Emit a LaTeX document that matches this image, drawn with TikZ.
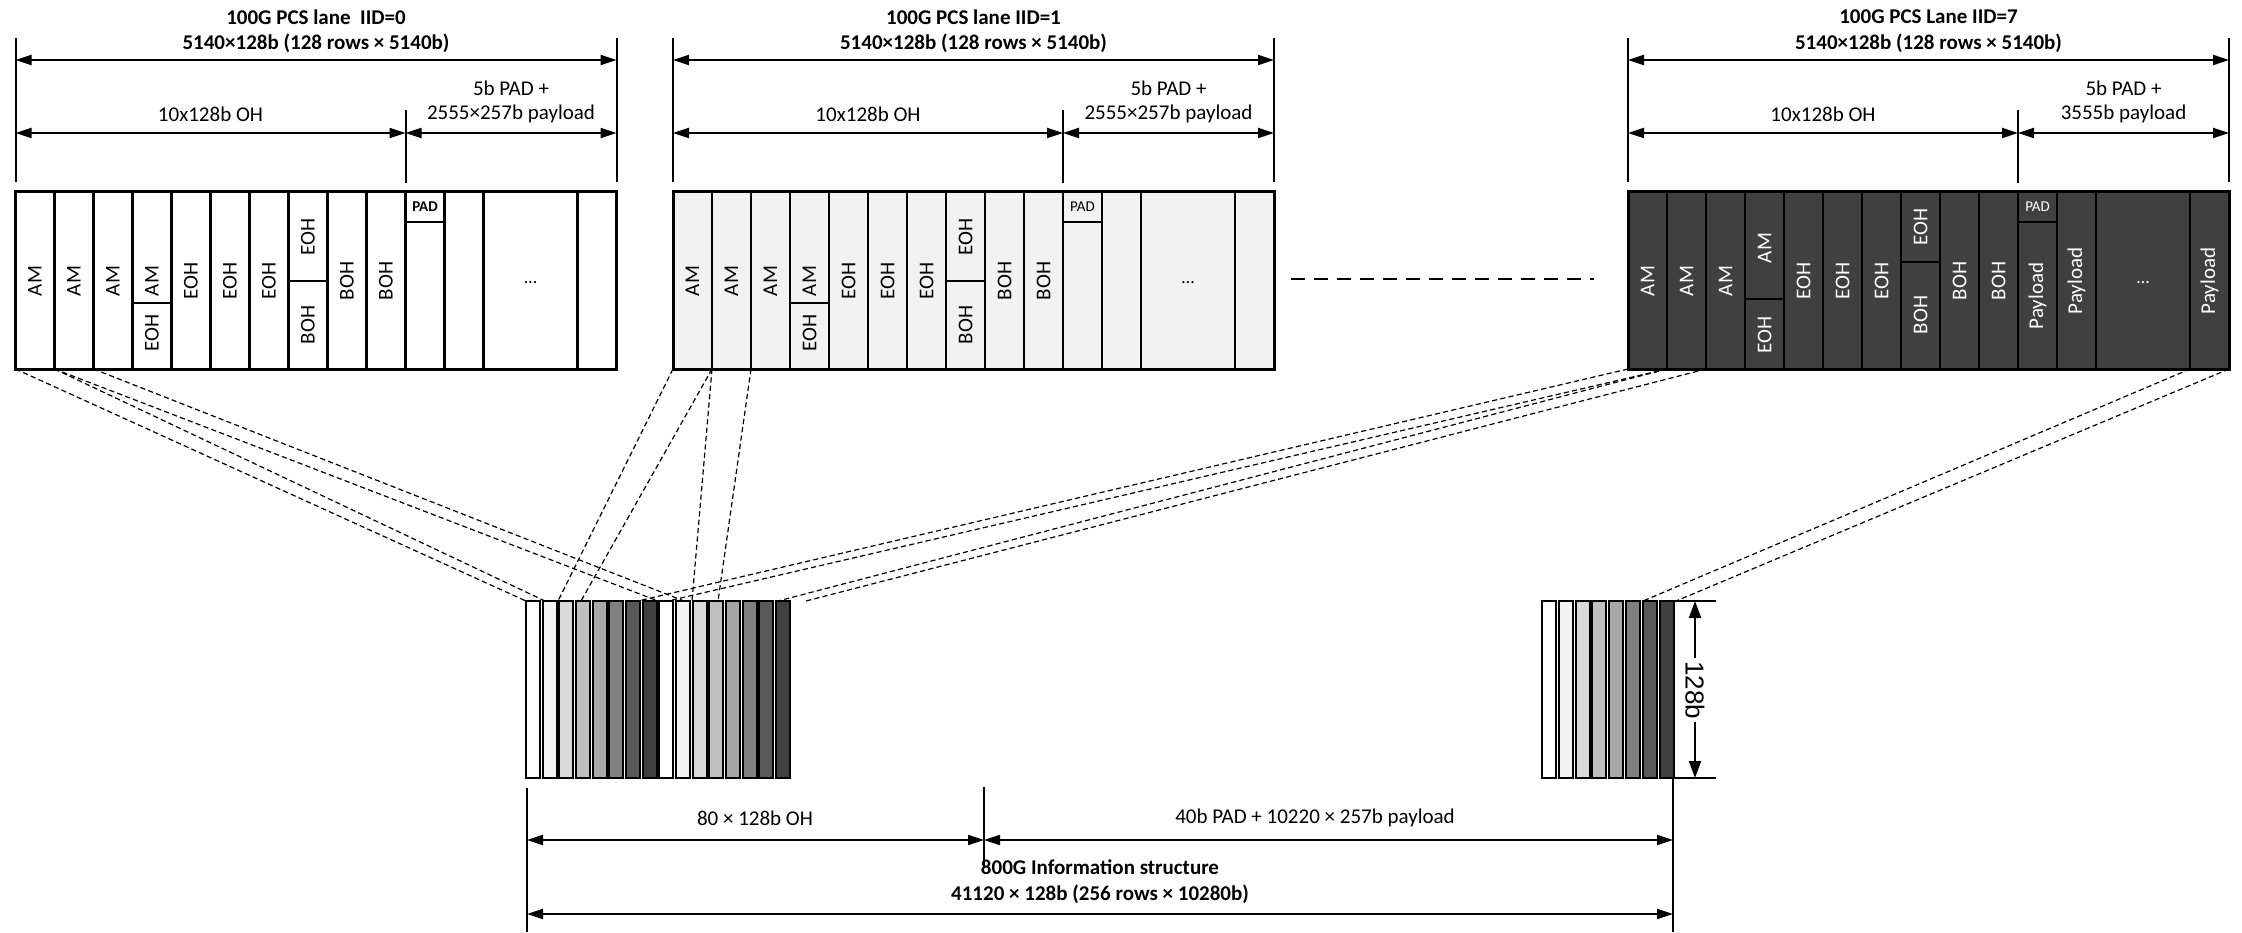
\documentclass[tikz,border=0pt]{standalone}
\usepackage{fontspec}
\setmainfont{Carlito}
\newfontfamily\arialf{Liberation Sans}
\usetikzlibrary{arrows.meta}
\definecolor{g1}{HTML}{F2F2F2}
\definecolor{g2}{HTML}{D9D9D9}
\definecolor{g3}{HTML}{BFBFBF}
\definecolor{g4}{HTML}{A6A6A6}
\definecolor{g5}{HTML}{808080}
\definecolor{g6}{HTML}{595959}
\definecolor{g7}{HTML}{404040}
\tikzset{
  boxline/.style={line width=1.5pt},
  divline/.style={line width=1.2pt},
  extline/.style={line width=1pt},
  dimarrow/.style={line width=1pt,{Triangle[length=8pt,width=5pt]}-{Triangle[length=8pt,width=5pt]}},
  conn/.style={line width=0.6pt,dash pattern=on 2.6pt off 1.6pt},
  barbox/.style={line width=1pt},
  lbl/.style={font=\fontsize{10.5}{12}\selectfont,rotate=90,inner sep=0pt},
  padlbl/.style={font=\fontsize{7.5}{9}\selectfont,inner sep=0pt},
  dotlbl/.style={font=\fontsize{9}{10}\selectfont,inner sep=0pt},
  txt/.style={font=\fontsize{10.5}{12}\selectfont,inner sep=0pt},
  ttl/.style={font=\bfseries\fontsize{10.5}{12}\selectfont,inner sep=0pt},
}
\newcommand\lanebox[3]{%
\begin{scope}[shift={(#1,0)}]
  \fill[#2] (0,191) rectangle (601,369);
  \foreach \k in {39,78,...,468} \draw[divline] (\k,191) -- (\k,369);
  \draw[divline] (562,191) -- (562,369);
  \draw[boxline] (0,191) rectangle (601,369);
  \coordinate (#3-c0) at (0,369);
  \coordinate (#3-c1) at (39,369);
  \coordinate (#3-c2) at (78,369);
  \coordinate (#3-cR) at (562,369);
  \coordinate (#3-cE) at (601,369);
\end{scope}}
\newcommand\lanedims[4]{%
\begin{scope}[shift={(#1,0)}]
  \node[ttl] (#4-t1) at (300.5,17) {100G PCS #2};
  \node[ttl] (#4-t2) at (300.5,43) {5140×128b (128 rows × 5140b)};
  \coordinate (#4-e1) at (0,38);   \coordinate (#4-e2) at (0,182);
  \coordinate (#4-e3) at (601,38); \coordinate (#4-e4) at (601,182);
  \coordinate (#4-e5) at (390,110); \coordinate (#4-e6) at (390,183);
  \draw[extline] (#4-e1) -- (#4-e2);
  \draw[extline] (#4-e3) -- (#4-e4);
  \draw[extline] (#4-e5) -- (#4-e6);
  \coordinate (#4-a1) at (0,60);  \coordinate (#4-a2) at (601,60);
  \coordinate (#4-b1) at (0,133); \coordinate (#4-b2) at (390,133); \coordinate (#4-b3) at (601,133);
  \draw[dimarrow] (#4-a1) -- (#4-a2);
  \draw[dimarrow] (#4-b1) -- (#4-b2);
  \draw[dimarrow] (#4-b2) -- (#4-b3);
  \node[txt] (#4-oh) at (195,114) {10x128b OH};
  \node[txt] (#4-p1) at (495.5,88) {5b PAD +};
  \node[txt] (#4-p2) at (495.5,114) {#3};
\end{scope}}
\newcommand\lanelabelsA[3]{% frames IID=0 and IID=1
\begin{scope}[shift={(#1,0)}]
  \draw[divline] (117,303) -- (156,303);
  \draw[divline] (273,281) -- (312,281);
  \draw[divline] (390,222) -- (429,222);
  \node[lbl] (#2-l1) at (19.5,281) {AM};
  \node[lbl] (#2-l2) at (58.5,281) {AM};
  \node[lbl] (#2-l3) at (97.5,281) {AM};
  \node[lbl] (#2-l4) at (136.5,281) {AM};
  \node[lbl] (#2-l4b) at (136.5,333) {EOH};
  \node[lbl] (#2-l5) at (175.5,281) {EOH};
  \node[lbl] (#2-l6) at (214.5,281) {EOH};
  \node[lbl] (#2-l7) at (253.5,281) {EOH};
  \node[lbl] (#2-l8) at (292.5,237) {EOH};
  \node[lbl] (#2-l8b) at (292.5,325) {BOH};
  \node[lbl] (#2-l9) at (331.5,281) {BOH};
  \node[lbl] (#2-l10) at (370.5,281) {BOH};
  \node[padlbl] (#2-pad) at (409.5,206.5) {#3PAD};
  \node[dotlbl] (#2-dots) at (515,283) {…};
\end{scope}}
\begin{document}
\begin{tikzpicture}[x=0.5pt,y=-0.5pt]
\useasboundingbox (0,0) rectangle (2242,932);

% ---- lane IID=0
\lanebox{15.5}{white}{L0}
\lanelabelsA{15.5}{L0}{\bfseries}
\lanedims{15.5}{lane~~IID=0}{2555×257b payload}{D0}

% ---- lane IID=1
\lanebox{673}{g1}{L1}
\lanelabelsA{673}{L1}{}
\lanedims{673}{lane IID=1}{2555×257b payload}{D1}

% ---- lane IID=7
\lanebox{1628}{g7}{L7}
\begin{scope}[shift={(1628,0)},lbl/.append style={text=white},padlbl/.append style={text=white},dotlbl/.append style={text=white}]
  \draw[divline] (117,299) -- (156,299);
  \draw[divline] (273,262) -- (312,262);
  \draw[divline] (390,222) -- (429,222);
  \node[lbl] (L7-l1) at (19.5,281) {AM};
  \node[lbl] (L7-l2) at (58.5,281) {AM};
  \node[lbl] (L7-l3) at (97.5,281) {AM};
  \node[lbl] (L7-l4) at (136.5,248) {AM};
  \node[lbl] (L7-l4b) at (136.5,335) {EOH};
  \node[lbl] (L7-l5) at (175.5,281) {EOH};
  \node[lbl] (L7-l6) at (214.5,281) {EOH};
  \node[lbl] (L7-l7) at (253.5,281) {EOH};
  \node[lbl] (L7-l8) at (292.5,227) {EOH};
  \node[lbl] (L7-l8b) at (292.5,315) {BOH};
  \node[lbl] (L7-l9) at (331.5,281) {BOH};
  \node[lbl] (L7-l10) at (370.5,281) {BOH};
  \node[padlbl] (L7-pad) at (409.5,206.5) {PAD};
  \node[lbl] (L7-pl1) at (409.5,296) {Payload};
  \node[lbl] (L7-pl2) at (448.5,281) {Payload};
  \node[dotlbl] (L7-dots) at (515,283) {…};
  \node[lbl] (L7-pl3) at (581.5,281) {Payload};
\end{scope}
\lanedims{1628}{Lane IID=7}{3555b payload}{D7}

% ---- dashed separator between lanes
\coordinate (sepA) at (1291,279);
\coordinate (sepB) at (1594,279);
\draw[line width=1pt,dash pattern=on 7pt off 4.5pt] (sepA) -- (sepB);

% ---- 800G structure bars
\foreach \i/\c in {0/white,1/g1,2/g2,3/g3,4/g4,5/g5,6/g6,7/g7,8/white,9/g1,10/g2,11/g3,12/g4,13/g5,14/g6,15/g7}
  \draw[barbox,fill=\c] ({526+16.67*\i},601) rectangle ++(14,177);
\foreach \i/\c in {0/white,1/g1,2/g2,3/g3,4/g4,5/g5,6/g6,7/g7}
  \draw[barbox,fill=\c] ({1542+16.8*\i},601) rectangle ++(14,177);

% ---- connector end points at the bars
\coordinate (L0a) at (526,601);
\coordinate (L0b) at (545,601);
\coordinate (L0c) at (658,601);
\coordinate (L0d) at (684,601);
\coordinate (L1a) at (558,601);
\coordinate (L1b) at (581,601);
\coordinate (L1c) at (692,601);
\coordinate (L1d) at (718,601);
\coordinate (L7a) at (638,601);
\coordinate (L7b) at (668,601);
\coordinate (L7c) at (778,601);
\coordinate (L7d) at (806,601);
\coordinate (L7e) at (1643,601);
\coordinate (L7f) at (1676,601);

\draw[conn] (L0-c0) -- (L0a);
\draw[conn] (L0-c1) -- (L0b);
\draw[conn] (L0-c1) -- (L0c);
\draw[conn] (L0-c2) -- (L0d);
\draw[conn] (L1-c0) -- (L1a);
\draw[conn] (L1-c1) -- (L1b);
\draw[conn] (L1-c1) -- (L1c);
\draw[conn] (L1-c2) -- (L1d);
\draw[conn] (L7-c0) -- (L7a);
\draw[conn] (L7-c1) -- (L7b);
\draw[conn] (L7-c1) -- (L7c);
\draw[conn] (L7-c2) -- (L7d);
\draw[conn] (L7-cR) -- (L7e);
\draw[conn] (L7-cE) -- (L7f);

% ---- 128b dimension
\coordinate (h1) at (1673.6,601); \coordinate (h2) at (1716,601);
\coordinate (h3) at (1673.6,778); \coordinate (h4) at (1716,778);
\coordinate (h5) at (1695,601);   \coordinate (h6) at (1695,778);
\draw[extline] (h1) -- (h2);
\draw[extline] (h3) -- (h4);
\draw[line width=1pt,{Triangle[length=8.5pt,width=6pt]}-{Triangle[length=8.5pt,width=6pt]}] (h5) -- (h6);
\node[fill=white,rotate=-90,inner sep=1.5pt,font=\arialf\fontsize{13}{15}\selectfont] (h128) at (1695,690) {128b};

% ---- bottom dimensions
\coordinate (v1) at (527,788);  \coordinate (v2) at (527,932);
\coordinate (v3) at (984,787);  \coordinate (v4) at (984,868);
\coordinate (v5) at (1673,778); \coordinate (v6) at (1673,932);
\draw[extline] (v1) -- (v2);
\draw[extline] (v3) -- (v4);
\draw[extline] (v5) -- (v6);
\coordinate (w1) at (527,840); \coordinate (w2) at (984,840); \coordinate (w3) at (1673,840);
\draw[dimarrow] (w1) -- (w2);
\draw[dimarrow] (w2) -- (w3);
\coordinate (w4) at (527,914); \coordinate (w5) at (1673,914);
\draw[dimarrow] (w4) -- (w5);
\node[txt] (boh) at (755,818) {80 × 128b OH};
\node[txt] (bpay) at (1315,818) {40b PAD + 10220 × 257b payload};
\node[ttl] (bt1) at (1100,867) {800G Information structure};
\node[ttl] (bt2) at (1100,894) {41120 × 128b (256 rows × 10280b)};
\end{tikzpicture}
\end{document}
